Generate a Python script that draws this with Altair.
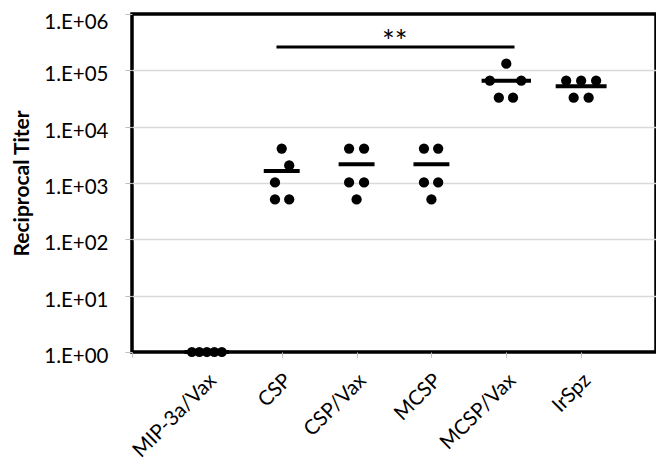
import altair as alt
import pandas as pd

# ---- data ----
categories = ["MIP-3a/Vax", "CSP", "CSP/Vax", "MCSP", "MCSP/Vax", "IrSpz"]
titers = [
    [1, 1, 1, 1, 1],
    [4096, 2048, 1024, 512, 512],
    [4096, 4096, 1024, 1024, 512],
    [4096, 4096, 1024, 1024, 512],
    [131072, 65536, 65536, 32768, 32768],
    [65536, 65536, 65536, 32768, 32768],
]
# horizontal spread of the dots inside each group (category units)
spread = [
    [-0.2, -0.1, 0.0, 0.1, 0.2],
    [0.0, 0.1, -0.09, -0.09, 0.1],
    [-0.1, 0.1, -0.1, 0.1, 0.0],
    [-0.1, 0.09, -0.1, 0.09, 0.0],
    [0.0, -0.22, 0.2, -0.1, 0.09],
    [-0.2, 0.0, 0.2, -0.1, 0.1],
]
mean_halfwidth = [0.3, 0.24, 0.24, 0.24, 0.33, 0.34]
sig_x = [1.93, 5.11]
sig_y = 260000
sig_label = "**"
sig_label_x = 3.51
sig_label_y = 440000
y_ticks = [1, 10, 100, 1000, 10000, 100000, 1000000]
x_ticks = [0, 1, 2, 3, 4, 5, 6, 7]

pts = []
means = []
for i, (cat, vals, offs) in enumerate(zip(categories, titers, spread)):
    pos = i + 1
    for v, o in zip(vals, offs):
        pts.append({"group": cat, "x": pos + o, "titer": v})
    m = sum(vals) / len(vals)
    means.append({"group": cat, "x1": pos - mean_halfwidth[i],
                  "x2": pos + mean_halfwidth[i], "mean": m})
pts = pd.DataFrame(pts)
means = pd.DataFrame(means)
sig = pd.DataFrame([{"x1": sig_x[0], "x2": sig_x[1], "y": sig_y}])
sig_txt = pd.DataFrame([{"x": sig_label_x, "y": sig_label_y, "t": sig_label}])

FONT = "Lato"
names_js = "[" + ",".join("'" + c + "'" for c in categories) + "]"

xscale = alt.Scale(domain=[0, 7], nice=False, zero=False)
yscale = alt.Scale(type="log", domain=[1, 1000000], nice=False)

x_axis = alt.Axis(
    values=x_ticks, title=None, grid=False, domain=False,
    tickColor="#bfbfbf", tickSize=5, tickWidth=1,
    labelExpr=f"datum.value>=1 && datum.value<=6 ? {names_js}[datum.value-1] : ''",
    labelAngle=315, labelAlign="right", labelBaseline="middle",
    labelFont=FONT, labelFontSize=20.5, labelColor="black",
    labelPadding=20, labelOffset=6, labelOverlap=False, labelFlush=False,
)
top_test = "datum.value == 1000000"
y_axis = alt.Axis(
    values=y_ticks, title="Reciprocal Titer", domain=False,
    grid=True, gridColor="#d9d9d9", gridWidth=1.3,
    gridOpacity=alt.ConditionalAxisNumber(
        condition={"test": "datum.value == 1 || datum.value == 1000000", "value": 0},
        value=1),
    tickColor="#bfbfbf", tickSize=7, tickWidth=1,
    labelExpr="'1.E+0' + round(log(datum.value)/LN10)",
    labelFont=FONT, labelFontSize=20.5, labelColor="black", labelPadding=17,
    labelBaseline=alt.ConditionalAxisLabelBaseline(
        condition={"test": top_test, "value": "top"}, value="middle"),
    labelOffset=alt.ConditionalAxisNumber(
        condition={"test": top_test, "value": -1.5}, value=4.5),
    labelOverlap=False, labelFlush=False,
    titleFont=FONT, titleFontSize=21, titleFontWeight="bold", titleColor="black",
    titleX=-110, titleBaseline="middle",
)

dots = alt.Chart(pts).mark_circle(color="black", opacity=1, size=105).encode(
    x=alt.X("x:Q", scale=xscale, axis=x_axis),
    y=alt.Y("titer:Q", scale=yscale, axis=y_axis),
)
mean_lines = alt.Chart(means).mark_rule(color="black", strokeWidth=4).encode(
    x=alt.X("x1:Q", scale=xscale), x2="x2:Q",
    y=alt.Y("mean:Q", scale=yscale),
)
sig_line = alt.Chart(sig).mark_rule(color="black", strokeWidth=3).encode(
    x=alt.X("x1:Q", scale=xscale), x2="x2:Q",
    y=alt.Y("y:Q", scale=yscale),
)
sig_text = alt.Chart(sig_txt).mark_text(
    font=FONT, fontSize=30, color="black", baseline="middle", align="center", dy=9
).encode(
    x=alt.X("x:Q", scale=xscale),
    y=alt.Y("y:Q", scale=yscale),
    text="t:N",
)

chart = alt.layer(mean_lines, dots, sig_line, sig_text).properties(
    width=524, height=338,
    background="white",
    autosize=alt.AutoSizeParams(type="none"),
    padding={"left": 124, "top": 6, "right": 0, "bottom": 109},
).configure_view(
    stroke="black", strokeWidth=3.5
)

chart.save("out.html", embed_options={"renderer": "svg", "actions": False})
